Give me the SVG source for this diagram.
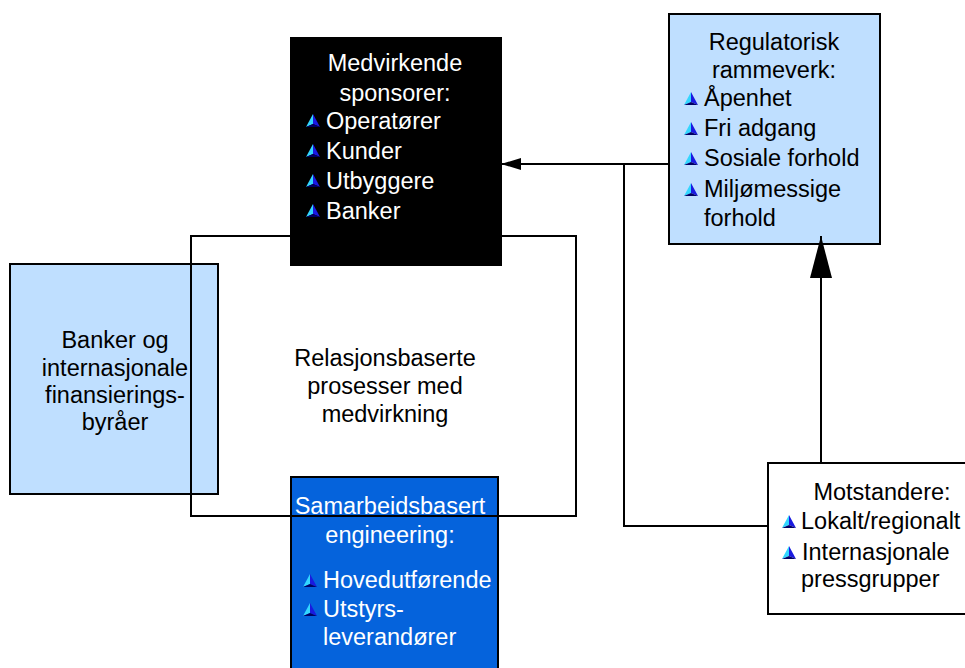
<svg xmlns="http://www.w3.org/2000/svg" width="965" height="668" viewBox="0 0 965 668">
  <style>
    text { font-family: "Liberation Sans", Arial, sans-serif; font-size: 23.5px; }
    .dark { fill: #000000; }
    .light { fill: #ffffff; }
    .mid { text-anchor: middle; }
    .box { stroke: #000; stroke-width: 2; }
    .lb { fill: #bfdfff; }
    .db { fill: #0563dc; }
    .bk { fill: #000000; }
    .wh { fill: #ffffff; }
    .line { fill: none; stroke: #000; stroke-width: 2; }
  </style>
  <defs>
    <g id="bullet">
      <polygon points="7,0 0,13 7,10" fill="#33d6ff"/>
      <polygon points="7,0 7,10 14,13" fill="#1a1ae0"/>
      <polygon points="0,13 7,10 14,13" fill="#000066"/>
    </g>
    <marker id="arrSmall" markerWidth="20" markerHeight="12" refX="20" refY="6" orient="auto" markerUnits="userSpaceOnUse">
      <polygon points="0,0 20,6 0,12" fill="#000"/>
    </marker>
    <marker id="arrBig" markerWidth="42" markerHeight="22" refX="42" refY="11" orient="auto" markerUnits="userSpaceOnUse">
      <polygon points="0,0 42,11 0,22" fill="#000"/>
    </marker>
  </defs>

  <rect width="965" height="668" fill="#ffffff"/>

  <g id="banker">
    <rect class="box lb" x="10" y="264" width="208" height="230"/>
    <text class="dark mid" x="115" y="348">Banker og</text>
    <text class="dark mid" x="115" y="376">internasjonale</text>
    <text class="dark mid" x="115" y="403">finansierings-</text>
    <text class="dark mid" x="115" y="430">byråer</text>
  </g>

  <g id="samarbeid">
    <rect class="box db" x="291" y="477" width="207" height="210"/>
    <text class="light mid" x="390" y="514">Samarbeidsbasert</text>
    <text class="light mid" x="390" y="543">engineering:</text>
    <use href="#bullet" x="303" y="574"/>
    <text class="light" x="323" y="588">Hovedutførende</text>
    <use href="#bullet" x="303" y="603"/>
    <text class="light" x="323" y="617">Utstyrs-</text>
    <text class="light" x="323" y="645">leverandører</text>
  </g>

  <g id="prosess">
    <rect class="line" x="191" y="236" width="385" height="280"/>
    <text class="dark mid" x="385" y="366">Relasjonsbaserte</text>
    <text class="dark mid" x="385" y="394">prosesser med</text>
    <text class="dark mid" x="385" y="422">medvirkning</text>
  </g>

  <g id="sponsorer">
    <rect class="box bk" x="291" y="38" width="210" height="227"/>
    <text class="light mid" x="395" y="71">Medvirkende</text>
    <text class="light mid" x="395" y="101">sponsorer:</text>
    <use href="#bullet" x="306" y="114"/>
    <text class="light" x="326" y="129">Operatører</text>
    <use href="#bullet" x="306" y="144"/>
    <text class="light" x="326" y="159">Kunder</text>
    <use href="#bullet" x="306" y="174"/>
    <text class="light" x="326" y="189">Utbyggere</text>
    <use href="#bullet" x="306" y="204"/>
    <text class="light" x="326" y="219">Banker</text>
  </g>

  <g id="regulatorisk">
    <rect class="box lb" x="669" y="14" width="211" height="230"/>
    <text class="dark mid" x="774" y="50">Regulatorisk</text>
    <text class="dark mid" x="774" y="78">rammeverk:</text>
    <use href="#bullet" x="684" y="92"/>
    <text class="dark" x="704" y="106">Åpenhet</text>
    <use href="#bullet" x="684" y="122"/>
    <text class="dark" x="704" y="136">Fri adgang</text>
    <use href="#bullet" x="684" y="152"/>
    <text class="dark" x="704" y="166">Sosiale forhold</text>
    <use href="#bullet" x="684" y="183"/>
    <text class="dark" x="704" y="197">Miljømessige</text>
    <text class="dark" x="704" y="226">forhold</text>
  </g>

  <g id="motstandere">
    <rect class="box wh" x="768" y="463" width="230" height="151"/>
    <text class="dark mid" x="882" y="500">Motstandere:</text>
    <use href="#bullet" x="782" y="515"/>
    <text class="dark" x="801" y="529">Lokalt/regionalt</text>
    <use href="#bullet" x="782" y="546"/>
    <text class="dark" x="802" y="560">Internasjonale</text>
    <text class="dark" x="801" y="587">pressgrupper</text>
  </g>

  <g id="connectors">
    <line class="line" x1="669" y1="164" x2="501" y2="164" marker-end="url(#arrSmall)"/>
    <polyline class="line" points="624,164 624,526 768,526"/>
    <line class="line" x1="821" y1="463" x2="821" y2="236" marker-end="url(#arrBig)"/>
  </g>
</svg>
